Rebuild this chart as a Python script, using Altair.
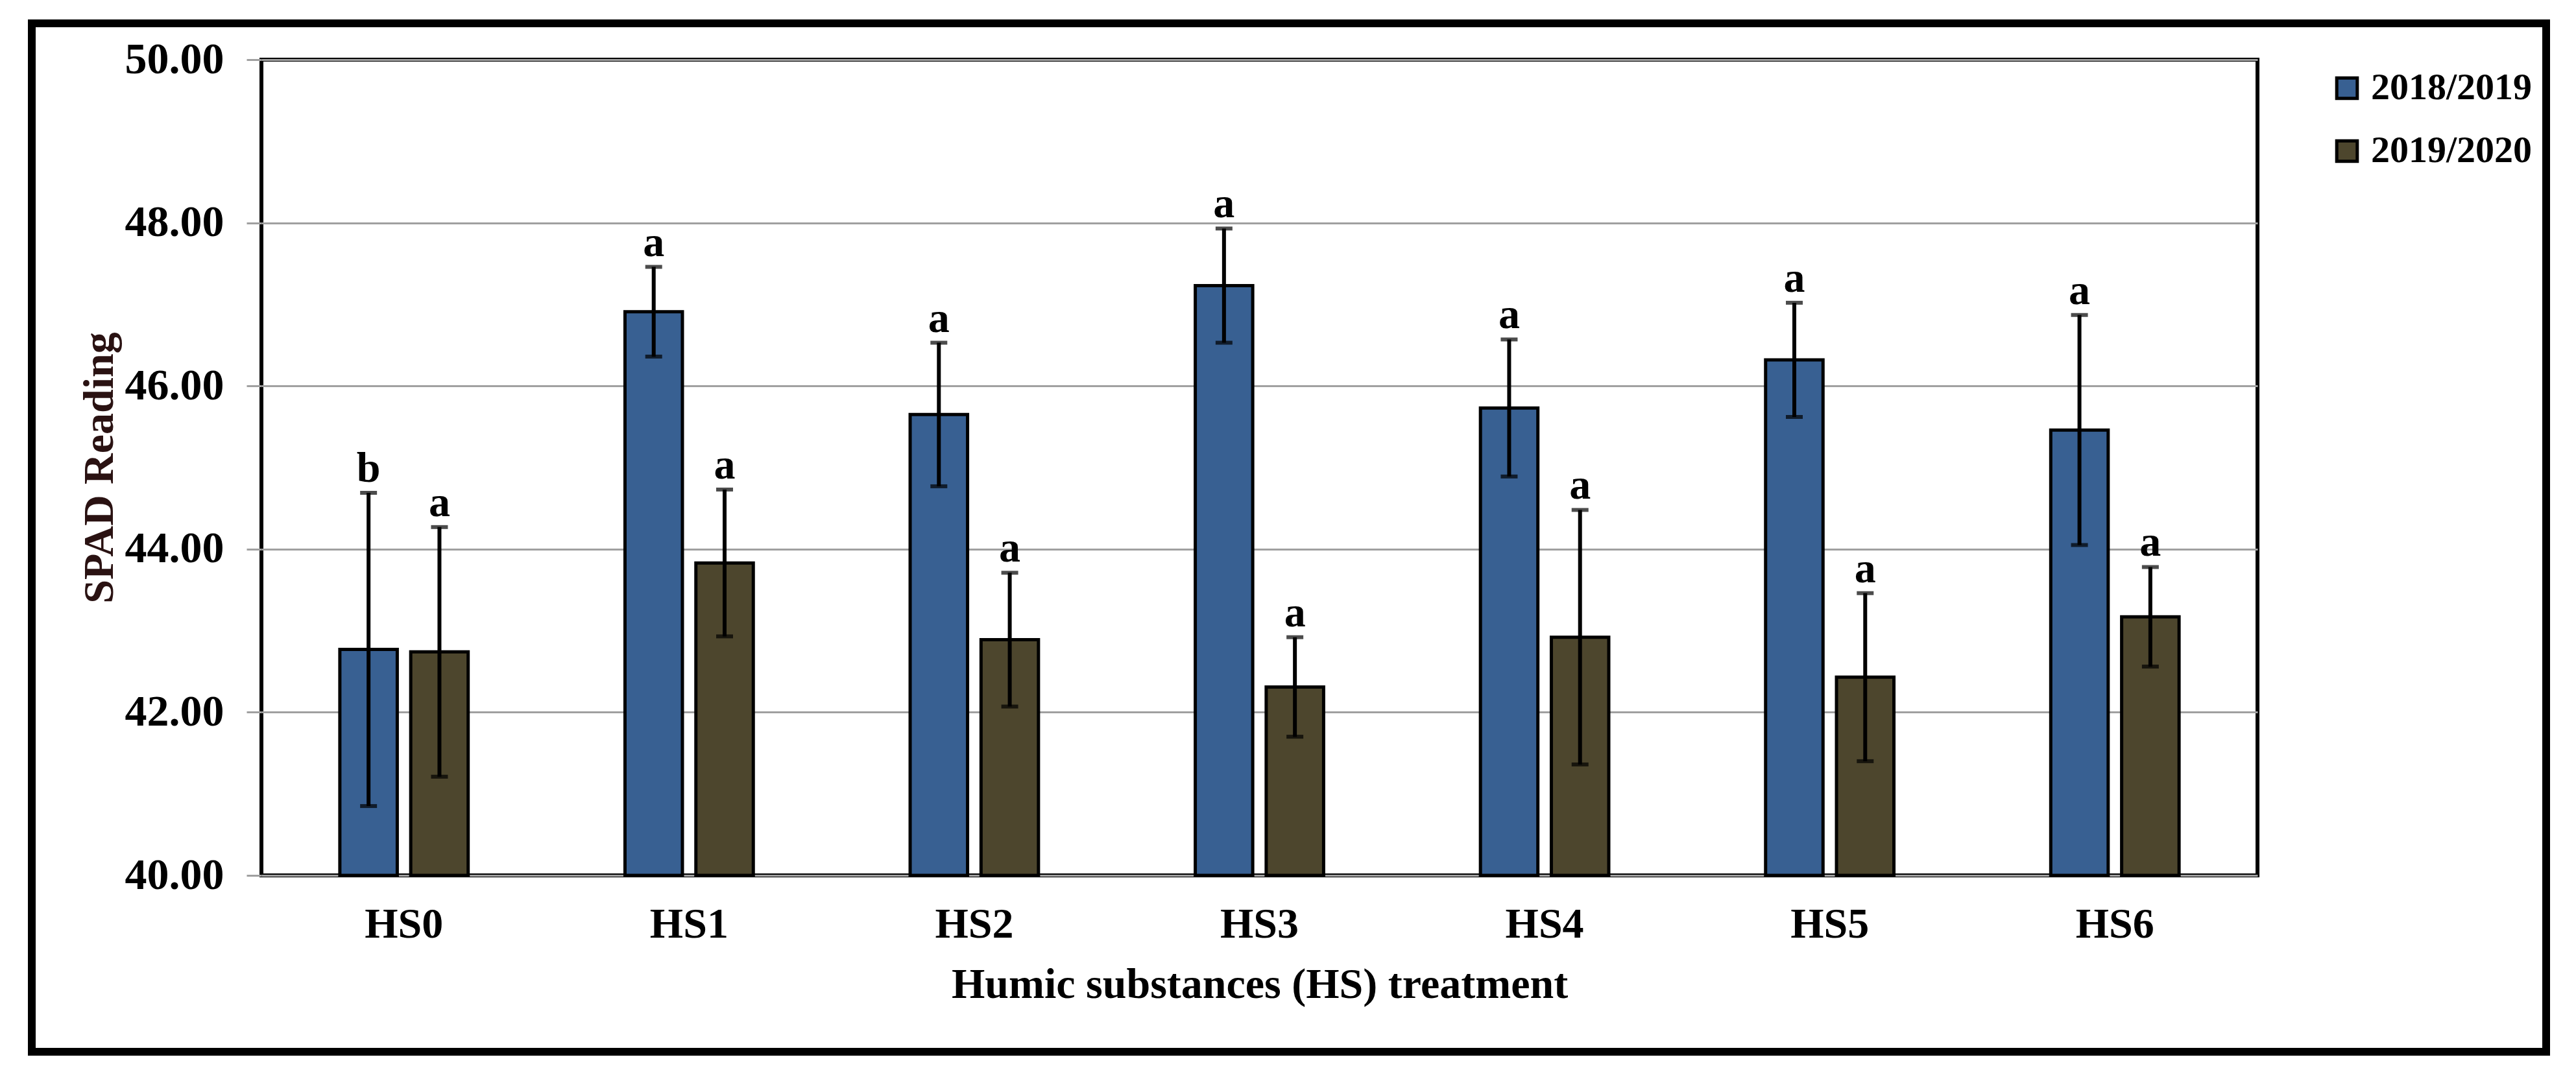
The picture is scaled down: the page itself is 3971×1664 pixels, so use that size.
import altair as alt
import pandas as pd

categories = ["HS0", "HS1", "HS2", "HS3", "HS4", "HS5", "HS6"]
seasons = ["2018/2019", "2019/2020"]
mean_2018 = [42.77, 46.91, 45.65, 47.23, 45.73, 46.32, 45.46]
err_2018 = [1.92, 0.55, 0.88, 0.70, 0.84, 0.70, 1.41]
mean_2019 = [42.74, 43.83, 42.89, 42.31, 42.92, 42.43, 43.17]
err_2019 = [1.53, 0.90, 0.82, 0.61, 1.56, 1.03, 0.61]
letters_2018 = ["b", "a", "a", "a", "a", "a", "a"]
letters_2019 = ["a", "a", "a", "a", "a", "a", "a"]
y_ticks = [40, 42, 44, 46, 48, 50]

rows = []
for i, c in enumerate(categories):
    for s, m, e, l in ((seasons[0], mean_2018, err_2018, letters_2018),
                       (seasons[1], mean_2019, err_2019, letters_2019)):
        rows.append({"HS": c, "Season": s, "mean": m[i],
                     "lo": m[i] - e[i], "hi": m[i] + e[i], "letter": l[i]})
df = pd.DataFrame(rows)

FONT = "Liberation Serif"
W, H = 3077, 1258

x_enc = alt.X("HS:N", sort=categories,
              scale=alt.Scale(paddingInner=0.55, paddingOuter=0.275),
              axis=alt.Axis(title="Humic substances (HS) treatment",
                            labelAngle=0, ticks=False, domain=False,
                            labelPadding=43, labelFontSize=66,
                            labelFont=FONT, labelFontWeight="bold",
                            labelColor="black",
                            titleFontSize=66, titleFont=FONT,
                            titleFontWeight="bold", titleColor="black",
                            titleBaseline="alphabetic", titleY=188))
xo_enc = alt.XOffset("Season:N", sort=seasons,
                     scale=alt.Scale(paddingInner=0.19, paddingOuter=0))
y_scale = alt.Scale(domain=[40, 50], nice=False, zero=False)

base = alt.Chart(df)

bars = base.mark_bar(stroke="black", strokeWidth=5).encode(
    x=x_enc,
    xOffset=xo_enc,
    y=alt.Y("mean:Q", scale=y_scale,
            axis=alt.Axis(title="SPAD Reading", values=y_ticks, format=".2f",
                          domain=False, grid=True, gridColor="#a0a0a0",
                          gridWidth=3, tickColor="#a0a0a0", tickWidth=3,
                          tickSize=23, labelPadding=35, labelFontSize=68,
                          labelFont=FONT, labelFontWeight="bold",
                          labelColor="black",
                          titleFontSize=66, titleFont=FONT,
                          titleFontWeight="bold", titleColor="#2a1212",
                          titleBaseline="alphabetic", titleX=-230)),
    y2=alt.datum(40),
    color=alt.Color("Season:N", sort=seasons,
                    scale=alt.Scale(domain=seasons,
                                    range=["#386092", "#4D462D"]),
                    legend=alt.Legend(title=None, orient="none",
                                      legendX=3186, legendY=15,
                                      symbolType="square", symbolSize=1000,
                                      symbolStrokeColor="black",
                                      symbolStrokeWidth=5,
                                      symbolOpacity=1,
                                      labelFont=FONT, labelFontSize=58,
                                      labelFontWeight="bold",
                                      labelColor="black", labelOffset=8,
                                      labelLimit=0,
                                      rowPadding=39)),
)

err = base.mark_rule(color="black", strokeWidth=6).encode(
    x=alt.X("HS:N", sort=categories),
    xOffset=xo_enc,
    y=alt.Y("lo:Q", scale=y_scale),
    y2="hi:Q",
)

cap_hi = base.mark_tick(color="black", thickness=6, size=26).encode(
    x=alt.X("HS:N", sort=categories),
    xOffset=xo_enc,
    y=alt.Y("hi:Q", scale=y_scale),
)
cap_lo = base.mark_tick(color="black", thickness=6, size=26).encode(
    x=alt.X("HS:N", sort=categories),
    xOffset=xo_enc,
    y=alt.Y("lo:Q", scale=y_scale),
)

labels = base.mark_text(font=FONT, fontSize=66, fontWeight="bold",
                        color="black", baseline="alphabetic", dy=-17).encode(
    x=alt.X("HS:N", sort=categories),
    xOffset=xo_enc,
    y=alt.Y("hi:Q", scale=y_scale),
    text="letter:N",
)

frame = alt.Chart(pd.DataFrame({"k": [0]})).mark_rect(
    fill=None, stroke="black", strokeWidth=12, clip=False).encode(
    x=alt.value(-354), x2=alt.value(3522),
    y=alt.value(-56), y2=alt.value(1530),
)

chart = alt.layer(bars, err, cap_hi, cap_lo, labels, frame).properties(
    width=W, height=H,
    autosize=alt.AutoSizeParams(type="none"),
    padding={"left": 395, "top": 84, "right": 483, "bottom": 306},
    background="white",
).configure_view(stroke="black", strokeWidth=6)

chart.save("out.html", embed_options={"renderer": "svg", "actions": False})
